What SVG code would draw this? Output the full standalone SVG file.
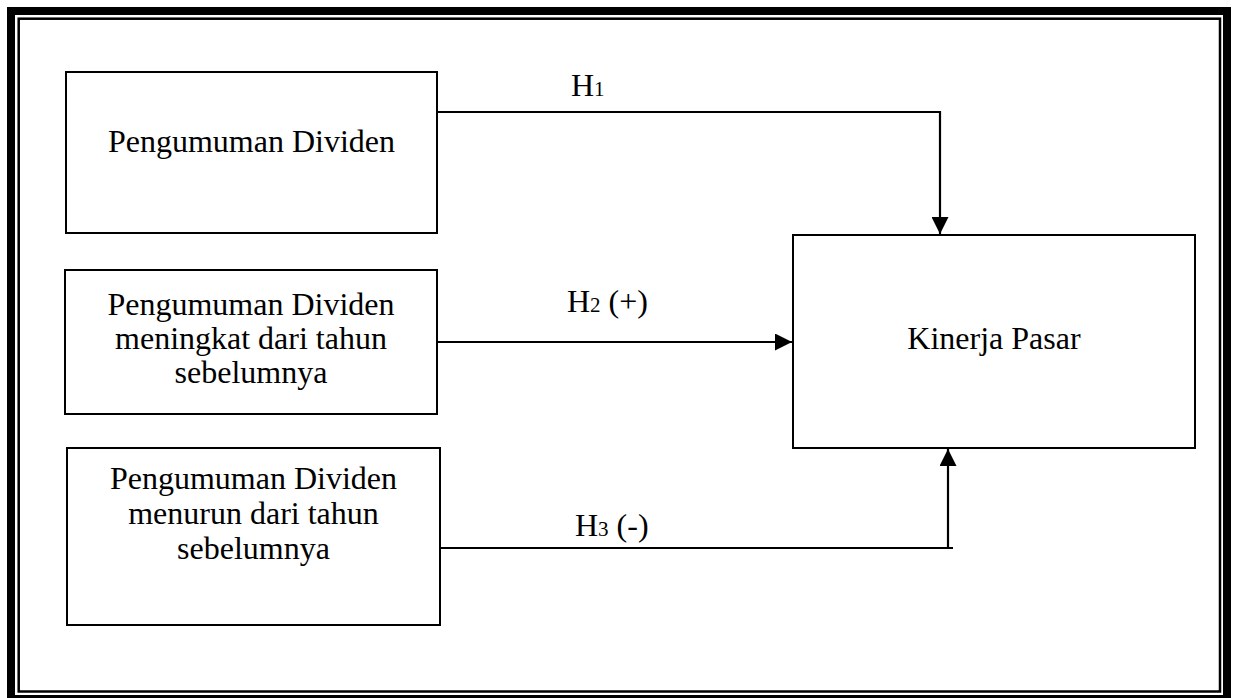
<svg xmlns="http://www.w3.org/2000/svg" width="1235" height="698" viewBox="0 0 1235 698">
<style>
.box{fill:#fff;stroke:#000;stroke-width:2}
.t{font-family:"Liberation Serif","Times New Roman",serif;font-size:32px;fill:#000}
.c{text-anchor:middle}
.sub{font-size:21px}
.ln{fill:none;stroke:#000;stroke-width:2.2}
</style>
<defs>
<marker id="ah" markerUnits="userSpaceOnUse" markerWidth="17" markerHeight="17" refX="16" refY="8" orient="auto" viewBox="0 0 16 16">
<path d="M0,0 L16,8 L0,16 Z" fill="#000"/>
</marker>
</defs>
<rect x="0" y="0" width="1235" height="698" fill="#fff"/>
<rect x="11" y="11" width="1216" height="688" fill="none" stroke="#000" stroke-width="8"/>
<rect x="18.7" y="18.7" width="1201.3" height="672.8" fill="none" stroke="#000" stroke-width="2.5"/>
<g id="connectors">
<polyline class="ln" points="437,112 940,112 940,234" marker-end="url(#ah)"/>
<line class="ln" x1="437" y1="342" x2="792" y2="342" marker-end="url(#ah)"/>
<polyline class="ln" points="440,548 953,548"/>
<line class="ln" x1="948" y1="548" x2="948" y2="449" marker-end="url(#ah)"/>
</g>
<g id="labels">
<text class="t" x="571" y="96">H<tspan class="sub">1</tspan></text>
<text class="t" x="567" y="312">H<tspan class="sub">2</tspan> (+)</text>
<text class="t" x="575" y="536">H<tspan class="sub">3</tspan> (-)</text>
</g>
<g id="node1">
<rect class="box" x="66" y="72" width="371" height="161"/>
<text class="t c" x="251.5" y="152">Pengumuman Dividen</text>
</g>
<g id="node2">
<rect class="box" x="65" y="270" width="372" height="144"/>
<text class="t c" x="251" y="315">Pengumuman Dividen</text>
<text class="t c" x="251" y="349">meningkat dari tahun</text>
<text class="t c" x="251" y="383">sebelumnya</text>
</g>
<g id="node3">
<rect class="box" x="67" y="448" width="373" height="177"/>
<text class="t c" x="253.5" y="489">Pengumuman Dividen</text>
<text class="t c" x="253.5" y="524">menurun dari tahun</text>
<text class="t c" x="253.5" y="559">sebelumnya</text>
</g>
<g id="node4">
<rect class="box" x="793" y="235" width="402" height="213"/>
<text class="t c" x="994" y="349">Kinerja Pasar</text>
</g>
</svg>
